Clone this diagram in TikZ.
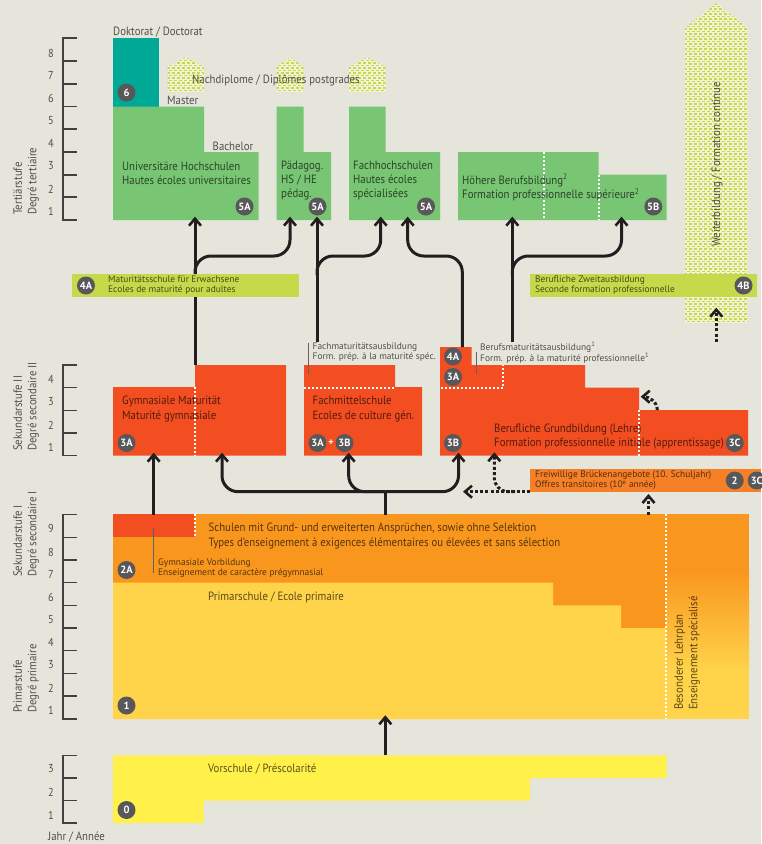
\documentclass[tikz,border=0pt]{standalone}
\usepackage{fontspec}
\setmainfont[FakeStretch=.9]{PT Sans}
\newfontfamily\smallfont{PT Sans}
\usetikzlibrary{arrows.meta}
\definecolor{bgc}{HTML}{E5E5DB}
\definecolor{teal6}{HTML}{00A995}
\definecolor{green5}{HTML}{78C573}
\definecolor{lime4}{HTML}{C5D94A}
\definecolor{limebase}{HTML}{F1F3D9}
\definecolor{red3}{HTML}{F24E22}
\definecolor{orange2}{HTML}{F9961E}
\definecolor{bridge2}{HTML}{F58028}
\definecolor{yellow1}{HTML}{FFD34A}
\definecolor{yellow0}{HTML}{FFF14A}
\definecolor{badgec}{HTML}{58585A}
\definecolor{linec}{HTML}{221E1F}
\tikzset{
  txt/.style={inner sep=0pt, anchor=west, align=left, text=black, text opacity=.65, font=\fontsize{12}{14.3}\selectfont},
  small/.style={txt, font=\smallfont\fontsize{9.4}{10.2}\selectfont},
  year/.style={txt, anchor=center, font=\fontsize{11.5}{12}\selectfont},
  vert/.style={txt, rotate=90},
  badge/.style={circle, fill=badgec, text=white, inner sep=0pt, minimum size=18pt, font=\smallfont\fontsize{10.5}{11}\selectfont\bfseries},
  tick/.style={line width=1.1pt, draw=linec!85},
  flow/.style={line width=3pt, draw=linec, -{Straight Barb[length=7pt,width=12pt,line width=2.6pt]}},
  flowline/.style={line width=3pt, draw=linec},
  dotflow/.style={flow, dash pattern=on 3pt off 2.2pt},
  dotline/.style={draw=white, line width=2pt, dash pattern=on 2.4pt off 1.6pt},
  callout/.style={line width=.9pt, draw=linec!70}
}
% staggered dots inside a house shape: left, right, apex x, apex y, shoulder y, bottom y
\newcommand{\dothouse}[6]{
  \begin{scope}
    \clip (#1, #6) -- (#1, #5) -- (#3, #4) -- (#2, #5) -- (#2, #6) -- cycle;
    \fill [limebase] (#1, #4) rectangle (#2, #6);
    \pgfmathtruncatemacro{\nrows}{(#6 - #4) / 2.5}
    \pgfmathtruncatemacro{\ncols}{(#2 - #1) / 5 + 1}
    \foreach \row in {0, ..., \nrows} {
      \pgfmathsetmacro{\yrow}{#4 + 2.5 * \row}
      \pgfmathsetmacro{\xrow}{#1 - 1 + 2.5 * mod(\row, 2)}
      \foreach \col in {0, ..., \ncols}
        \fill [lime4] (\xrow + 5 * \col, \yrow) rectangle ++(3.2, 1.8);
    }
  \end{scope}
}
\begin{document}
\begin{tikzpicture}[x=1pt, y=-1pt]
  \useasboundingbox (0, 0) rectangle (761, 844);
  \fill [bgc] (0, 0) rectangle (761, 844);

  % year scales
  \draw [tick] (77, 38) -- (63, 38) -- (63, 220) -- (77, 220);
  \foreach \yy in {61, 84, 106.5, 129, 152, 175, 197} \draw [tick] (63, \yy) -- (77, \yy);
  \foreach \nr/\yy in {8/53, 7/75, 6/98, 5/121, 4/143, 3/166, 2/189, 1/211}
    \node [year] (t\nr) at (51, \yy) {\nr};

  \draw [tick] (77, 365) -- (63, 365) -- (63, 455.5) -- (77, 455.5);
  \foreach \yy in {387.7, 410.3, 433} \draw [tick] (63, \yy) -- (77, \yy);
  \foreach \nr/\yy in {4/379, 3/402, 2/425, 1/447}
    \node [year] (s\nr) at (51, \yy) {\nr};

  \draw [tick] (77, 514.5) -- (63, 514.5) -- (63, 719) -- (77, 719);
  \foreach \yy in {537.3, 560, 582.7, 605.3, 628, 650.7, 673.3, 696} \draw [tick] (63, \yy) -- (77, \yy);
  \foreach \nr/\yy in {9/528, 8/552, 7/574, 6/597, 5/620, 4/642, 3/665, 2/688, 1/710}
    \node [year] (p\nr) at (51, \yy) {\nr};

  \draw [tick] (77, 755.3) -- (63, 755.3) -- (63, 823) -- (77, 823);
  \foreach \yy in {778, 800.5} \draw [tick] (63, \yy) -- (77, \yy);
  \foreach \nr/\yy in {3/769, 2/792, 1/815}
    \node [year] (v\nr) at (51, \yy) {\nr};

  \node [txt] (jahr) at (48, 837) {Jahr / Année};
  \node [vert, anchor=south west] (tert) at (39, 215) {Tertiärstufe\\Degré tertiaire};
  \node [vert, anchor=south west] (sek2) at (39, 451) {Sekundarstufe II\\Degré secondaire II};
  \node [vert, anchor=south west] (sek1) at (39, 577) {Sekundarstufe I\\Degré secondaire I};
  \node [vert, anchor=south west] (prim) at (39, 713) {Primarstufe\\Degré primaire};

  % dotted areas
  \dothouse{167.7}{204}{186}{57}{67}{92}
  \dothouse{276.5}{303.5}{290}{57}{67}{92}
  \dothouse{349}{385.5}{367}{57}{67}{92}
  \dothouse{685}{747.7}{716.5}{3}{28}{323}

  % tertiary blocks
  \fill [teal6] (113, 38) rectangle (159, 107);
  \fill [green5] (113, 106.5) -- (204, 106.5) -- (204, 152) -- (258.5, 152) -- (258.5, 220) -- (113, 220) -- cycle;
  \fill [green5] (276.5, 106.5) -- (303.7, 106.5) -- (303.7, 152) -- (331, 152) -- (331, 220) -- (276.5, 220) -- cycle;
  \fill [green5] (349, 106.5) -- (385.5, 106.5) -- (385.5, 152) -- (440, 152) -- (440, 220) -- (349, 220) -- cycle;
  \fill [green5] (458, 152) -- (598.7, 152) -- (598.7, 174.7) -- (666.7, 174.7) -- (666.7, 220) -- (458, 220) -- cycle;
  \draw [dotline] (544, 152) -- (544, 220);
  \draw [dotline] (598.5, 175) -- (598.5, 220);

  % secondary II blocks
  \fill [red3] (113, 387) -- (195, 387) -- (195, 365) -- (286, 365) -- (286, 455.7) -- (113, 455.7) -- cycle;
  \fill [red3] (304, 365) -- (395, 365) -- (395, 387) -- (422, 387) -- (422, 455.7) -- (304, 455.7) -- cycle;
  \fill [red3] (440, 347) -- (471.5, 347) -- (471.5, 365) -- (585, 365) -- (585, 387.7) -- (639, 387.7) -- (639, 410) -- (748, 410) -- (748, 455.7) -- (440, 455.7) -- cycle;
  \draw [dotline] (194.7, 387) -- (194.7, 455.7);
  \draw [dotline] (304, 387.5) -- (395, 387.5);
  \draw [dotline] (441, 387.5) -- (503.4, 387.5) -- (503.4, 365);
  \draw [dotline] (639, 410) -- (639, 455.7);

  % secondary I and primary
  \fill [orange2] (113, 514) rectangle (667, 583);
  \fill [orange2] (553, 582) rectangle (667, 606);
  \fill [orange2] (621, 605) rectangle (667, 629);
  \fill [yellow1] (113, 582.7) -- (553, 582.7) -- (553, 605.3) -- (621, 605.3) -- (621, 628) -- (667, 628) -- (667, 719) -- (113, 719) -- cycle;
  \fill [orange2] (666, 514) rectangle (749, 570);
  \fill [top color=orange2, bottom color=yellow1] (666, 570) rectangle (749, 670);
  \fill [yellow1] (666, 669.5) rectangle (749, 719);
  \fill [red3] (113, 514) rectangle (195, 537);
  \draw [dotline] (194.7, 514) -- (194.7, 537);
  \draw [dotline] (666.3, 514) -- (666.3, 719);

  % preschool
  \fill [yellow0] (113, 755.3) -- (666.7, 755.3) -- (666.7, 778) -- (530, 778) -- (530, 800.5) -- (203.7, 800.5) -- (203.7, 823) -- (113, 823) -- cycle;

  % connectors
  \coordinate (uniB) at (195, 365);
  \coordinate (uniT) at (195, 216.7);
  \coordinate (phT) at (290, 216.7);
  \coordinate (fmsB) at (317, 341.7);
  \coordinate (fmsT) at (317, 216.7);
  \coordinate (fhT) at (380.7, 216.7);
  \coordinate (bmsB) at (462.3, 347);
  \coordinate (bmsT) at (407.7, 216.7);
  \coordinate (hfB) at (512.3, 342);
  \coordinate (hfT) at (512.3, 216.7);
  \coordinate (hfbT) at (621.5, 216.7);
  \draw [flow] (uniB) -- (uniT);
  \draw [flow, rounded corners=16pt] (195, 275) -- (195, 256) -- (290, 256) -- (phT);
  \draw [flow] (fmsB) -- (fmsT);
  \draw [flow, rounded corners=16pt] (317, 275) -- (317, 256) -- (380.7, 256) -- (fhT);
  \draw [flow, rounded corners=16pt] (bmsB) -- (462.3, 256) -- (407.7, 256) -- (bmsT);
  \draw [flow] (hfB) -- (hfT);
  \draw [flow, rounded corners=16pt] (512.3, 275) -- (512.3, 256) -- (621.5, 256) -- (hfbT);

  \coordinate (gymB) at (153.7, 514.5);
  \coordinate (gymT) at (153.7, 452.7);
  \coordinate (stemB) at (385.3, 514.5);
  \coordinate (stemT) at (385.3, 491.7);
  \draw [flow] (gymB) -- (gymT);
  \draw [flowline] (stemB) -- (stemT);
  \draw [flow, rounded corners=16pt] (stemT) -- (222, 491.7) -- (222, 452.7);
  \draw [flow, rounded corners=16pt] (stemT) -- (348.7, 491.7) -- (348.7, 452.7);
  \draw [flow, rounded corners=16pt] (stemT) -- (458.5, 491.7) -- (458.5, 452.7);

  \coordinate (vorB) at (385.3, 755.3);
  \coordinate (vorT) at (385.3, 715.3);
  \draw [flow] (vorB) -- (vorT);

  \coordinate (brkR) at (530, 491.7);
  \draw [dotflow] (brkR) -- (463, 491.7);
  \draw [dotflow, rounded corners=14pt] (515, 491.7) -- (494.3, 491.7) -- (494.3, 452.3);
  \coordinate (brkB) at (648.5, 514.5);
  \coordinate (brkT) at (648.5, 494);
  \draw [dotflow] (brkB) -- (brkT);
  \coordinate (befB) at (657.3, 410);
  \coordinate (befT) at (640.7, 396.7);
  \draw [dotflow] (befB) to [out=90, in=0] (befT);
  \coordinate (wbB) at (716.3, 341.7);
  \coordinate (wbT) at (716.3, 307.7);
  \draw [dotflow] (wbB) -- (wbT);

  % callout rules
  \draw [callout] (308, 342.7) -- (308, 374);
  \draw [callout] (476, 351.7) -- (476, 374);
  \draw [callout] (153.7, 528) -- (153.7, 573);

  % bars
  \fill [lime4] (72, 274) rectangle (299, 296.7);
  \fill [lime4] (530, 274) rectangle (756.7, 296.7);
  \fill [bridge2] (530, 469.3) rectangle (761, 491.7);

  % badges
  \node [badge] (b6) at (126.5, 92.5) {6};
  \node [badge] (b5a) at (244.5, 206.5) {5A};
  \node [badge] (b5b) at (317.5, 206.5) {5A};
  \node [badge] (b5c) at (426, 206.5) {5A};
  \node [badge] (b5d) at (653.3, 206.5) {5B};
  \node [badge] (b4a) at (86, 285.5) {4A};
  \node [badge] (b4b) at (743.5, 285.5) {4B};
  \node [badge] (b3a) at (126.5, 443) {3A};
  \node [badge] (b3b) at (317.5, 443) {3A};
  \node [badge] (b3c) at (344.5, 443) {3B};
  \node [txt, anchor=center, text=white, text opacity=1, font=\smallfont\fontsize{10}{10}\selectfont\bfseries] (bplus) at (331, 443) {+};
  \node [badge] (b4c) at (453, 356.5) {4A};
  \node [badge] (b3d) at (453, 377) {3A};
  \node [badge] (b3e) at (453, 443) {3B};
  \node [badge] (b3f) at (734.7, 443) {3C};
  \node [badge] (b2) at (734.7, 480.5) {2};
  \node [badge] (b3g) at (756.7, 480.5) {3C};
  \node [badge] (b2a) at (126.5, 570) {2A};
  \node [badge] (b1) at (126.5, 705.5) {1};
  \node [badge] (b0) at (126.5, 810) {0};

  % texts
  \node [txt] (doc) at (113, 32) {Doktorat / Doctorat};
  \node [txt] (nach) at (192, 80) {Nachdiplome / Diplômes postgrades};
  \node [txt] (master) at (167, 100) {Master};
  \node [txt] (bach) at (212.5, 146) {Bachelor};
  \node [txt] (uni) at (122, 173) {Universitäre Hochschulen\\Hautes écoles universitaires};
  \node [txt] (ph) at (281, 180.5) {Pädagog.\\HS / HE\\pédag.};
  \node [txt] (fh) at (353, 180.5) {Fachhochschulen\\Hautes écoles\\spécialisées};
  \node [txt] (hf) at (462, 187.5) {Höhere Berufsbildung\textsuperscript{2}\\Formation professionnelle supérieure\textsuperscript{2}};
  \node [small] (mat) at (108, 285) {Maturitätsschule für Erwachsene\\Ecoles de maturité pour adultes};
  \node [small] (zweit) at (535, 285) {Berufliche Zweitausbildung\\Seconde formation professionnelle};
  \node [vert, anchor=west] (weiter) at (717, 247) {Weiterbildung / Formation continue};
  \node [small] (fma) at (312.5, 352) {Fachmaturitätsausbildung\\Form. prép. à la maturité spéc.};
  \node [small] (bma) at (480, 352.5) {Berufsmaturitätsausbildung\textsuperscript{1}\\Form. prép. à la maturité professionnelle\textsuperscript{1}};
  \node [txt] (gym) at (122, 409) {Gymnasiale Maturität\\Maturité gymnasiale};
  \node [txt] (fms) at (312.5, 409) {Fachmittelschule\\Ecoles de culture gén.};
  \node [txt] (beruf) at (494, 436.5) {Berufliche Grundbildung (Lehre)\\Formation professionnelle initiale (apprentissage)};
  \node [small] (brk) at (535, 480.5) {Freiwillige Brückenangebote (10. Schuljahr)\\Offres transitoires (10\textsuperscript{e} année)};
  \node [txt] (sek) at (208.5, 536) {Schulen mit Grund- und erweiterten Ansprüchen, sowie ohne Selektion\\Types d’enseignement à exigences élémentaires ou élevées et sans sélection};
  \node [small] (gv) at (158, 568) {Gymnasiale Vorbildung\\Enseignement de caractère prégymnasial};
  \node [txt] (pr) at (208, 597) {Primarschule / Ecole primaire};
  \node [vert, anchor=south west] (bl) at (700, 710) {Besonderer Lehrplan\\Enseignement spécialisé};
  \node [txt] (vs) at (208, 769) {Vorschule / Préscolarité};
\end{tikzpicture}
\end{document}
